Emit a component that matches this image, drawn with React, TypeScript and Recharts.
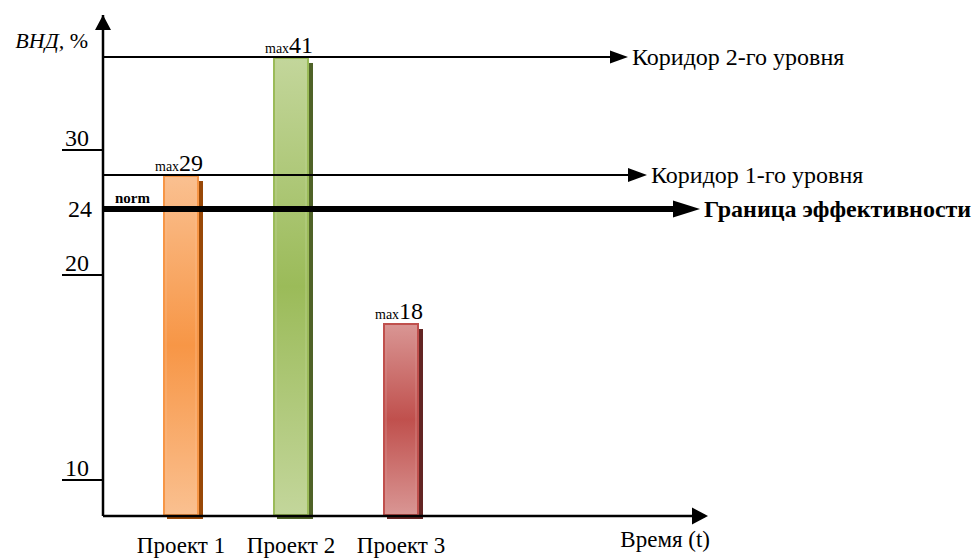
import React from "react";
import { BarChart, Bar, XAxis, YAxis, ReferenceLine, LabelList } from "recharts";

const PROJECTS = ["Проект 1", "Проект 2", "Проект 3"];
const IRR_MAX = [29, 41, 18];
const Y_TICKS = [10, 20, 24, 30];
const NORM = 24;
const CORRIDOR_1 = 29;
const CORRIDOR_2 = 41;
const Y_MAX = 45;

const data = PROJECTS.map((name, i) => ({ name, irr: IRR_MAX[i] }));

const FONT = "'Liberation Serif', 'Times New Roman', serif";
const BAR_COLORS = [
  { light: "#fac090", mid: "#f79646", shadow: "#984807" },
  { light: "#c3d69b", mid: "#9bbb59", shadow: "#4f6228" },
  { light: "#d99694", mid: "#c0504d", shadow: "#632523" },
];

// the axis in the picture is hand-drawn, not to scale: piecewise-linear knots (value -> share of height)
const KNOT_V = [0, 10, 18, 20, 24, 29, 30, 41, 45];
const KNOT_F = [0, 0.0719, 0.3852, 0.481, 0.6128, 0.6806, 0.7305, 0.9162, 1];

function schematicScale(): any {
  let dom = [0, Y_MAX];
  let rng = [1, 0];
  const frac = (v: number) => {
    for (let i = 1; i < KNOT_V.length; i++) {
      if (v <= KNOT_V[i] || i === KNOT_V.length - 1) {
        const t = (v - KNOT_V[i - 1]) / (KNOT_V[i] - KNOT_V[i - 1]);
        return KNOT_F[i - 1] + t * (KNOT_F[i] - KNOT_F[i - 1]);
      }
    }
    return 0;
  };
  const s: any = (v: number) => rng[0] + frac(Number(v)) * (rng[1] - rng[0]);
  s.domain = (d?: number[]) => (d ? ((dom = [...d]), s) : [...dom]);
  s.range = (r?: number[]) => (r ? ((rng = [...r]), s) : [...rng]);
  s.copy = () => schematicScale().domain(dom).range(rng);
  s.ticks = () => Y_TICKS;
  s.invert = (px: number) => {
    const f = (px - rng[0]) / (rng[1] - rng[0]);
    for (let i = 1; i < KNOT_F.length; i++) {
      if (f <= KNOT_F[i]) {
        const t = (f - KNOT_F[i - 1]) / (KNOT_F[i] - KNOT_F[i - 1]);
        return KNOT_V[i - 1] + t * (KNOT_V[i] - KNOT_V[i - 1]);
      }
    }
    return Y_MAX;
  };
  return s;
}

const BarShape = (p: any) => {
  const { x, y, width, height, index } = p;
  const c = BAR_COLORS[index];
  return (
    <g>
      <rect x={x + 4} y={y + 6} width={width} height={height - 3} fill={c.shadow} />
      <rect x={x + 1} y={y + 1} width={width - 2} height={height - 2} fill={`url(#barGrad${index})`} stroke={c.mid} strokeWidth={2} />
      <rect x={x + 3} y={y + 3} width={width - 6} height={height - 6} fill="none" stroke={c.light} strokeOpacity={0.6} strokeWidth={1} />
    </g>
  );
};

const BarLabel = (p: any) => {
  const { x, y, width, value } = p;
  return (
    <text x={x + width / 2 - 26} y={y - 4} fontFamily={FONT} fill="#000">
      <tspan fontSize={14}>max</tspan>
      <tspan fontSize={24}>{value}</tspan>
    </text>
  );
};

const arrowLine =
  (tipInset: number, thick: number, headLen: number, headHalf: number, label: string, bold: boolean, fontSize: number, extra?: boolean) =>
  (p: any) => {
    const { x1, y1, x2 } = p;
    const tip = x2 - tipInset;
    return (
      <g>
        <line x1={x1} y1={y1} x2={tip - headLen + 1} y2={y1} stroke="#000" strokeWidth={thick} />
        <polygon points={`${tip},${y1} ${tip - headLen},${y1 - headHalf} ${tip - headLen},${y1 + headHalf}`} fill="#000" />
        <text x={tip + 4} y={y1 + 8} fontFamily={FONT} fontSize={fontSize} fontWeight={bold ? "bold" : "normal"} fill="#000">
          {label}
        </text>
        {extra && (
          <text x={x1 + 12} y={y1 - 6} fontFamily={FONT} fontSize={15} fontWeight="bold" fill="#000">
            norm
          </text>
        )}
      </g>
    );
  };

const YTick = (p: any) => {
  const { x, y, payload } = p;
  if (payload.value === NORM) {
    return (
      <text x={x - 11} y={y + 8} textAnchor="end" fontFamily={FONT} fontSize={24} fill="#000">
        {payload.value}
      </text>
    );
  }
  return (
    <g>
      <line x1={x - 41} y1={y} x2={x} y2={y} stroke="#000" strokeWidth={2} />
      <text x={x - 14} y={y - 4} textAnchor="end" fontFamily={FONT} fontSize={24} fill="#000">
        {payload.value}
      </text>
    </g>
  );
};

const XTick = (p: any) => {
  const { x, y, payload } = p;
  return (
    <text x={x} y={y + 37} textAnchor="middle" fontFamily={FONT} fontSize={23} fill="#000">
      {payload.value}
    </text>
  );
};

const YAxisDecor = (p: any) => {
  const { x, y, width } = p.viewBox;
  const ax = x + width;
  return (
    <g>
      <polygon points={`${ax},${y} ${ax - 8},${y + 15} ${ax + 8},${y + 15}`} fill="#000" />
      <text x={ax - 15} y={y + 33} textAnchor="end" fontFamily={FONT} fontSize={22} fill="#000">
        <tspan fontStyle="italic">ВНД,</tspan>
        <tspan> %</tspan>
      </text>
    </g>
  );
};

const XAxisDecor = (p: any) => {
  const { x, y, width } = p.viewBox;
  const tip = x + width + 3;
  return (
    <g>
      <polygon points={`${tip},${y} ${tip - 16},${y - 8.5} ${tip - 16},${y + 8.5}`} fill="#000" />
      <text x={tip + 2} y={y + 31} textAnchor="end" fontFamily={FONT} fontSize={23} fill="#000">
        Время (t)
      </text>
    </g>
  );
};

export default function App() {
  return (
    <div style={{ position: "absolute", left: 0, top: 0, background: "#fff" }}>
      <BarChart width={975} height={559} data={data} margin={{ top: 15, right: 270, bottom: 0, left: 0 }}>
        <defs>
          {BAR_COLORS.map((c, i) => (
            <linearGradient key={i} id={`barGrad${i}`} x1="0" y1="0" x2="0" y2="1">
              <stop offset="0%" stopColor={c.light} />
              <stop offset="50%" stopColor={c.mid} />
              <stop offset="100%" stopColor={c.light} />
            </linearGradient>
          ))}
        </defs>
        <XAxis
          dataKey="name"
          height={43}
          padding={{ left: 23, right: 249 }}
          axisLine={{ stroke: "#000", strokeWidth: 2.5 }}
          tickLine={false}
          tickSize={0}
          tickMargin={0}
          tick={XTick}
          interval={0}
          label={{ content: XAxisDecor }}
        />
        <YAxis
          type="number"
          domain={[0, Y_MAX]}
          scale={schematicScale()}
          ticks={Y_TICKS}
          width={103}
          axisLine={{ stroke: "#000", strokeWidth: 2.5 }}
          tickLine={false}
          tickSize={0}
          tickMargin={0}
          tick={YTick}
          interval={0}
          label={{ content: YAxisDecor }}
        />
        <Bar dataKey="irr" barSize={36} shape={BarShape} isAnimationActive={false}>
          <LabelList dataKey="irr" content={BarLabel} />
        </Bar>
        <ReferenceLine y={CORRIDOR_2} shape={arrowLine(77, 2, 18, 6.5, "Коридор 2-го уровня", false, 24)} />
        <ReferenceLine y={CORRIDOR_1} shape={arrowLine(58, 2, 19, 7, "Коридор 1-го уровня", false, 24)} />
        <ReferenceLine y={NORM} shape={arrowLine(5, 6, 27, 8.5, "Граница эффективности", true, 24, true)} />
      </BarChart>
    </div>
  );
}
